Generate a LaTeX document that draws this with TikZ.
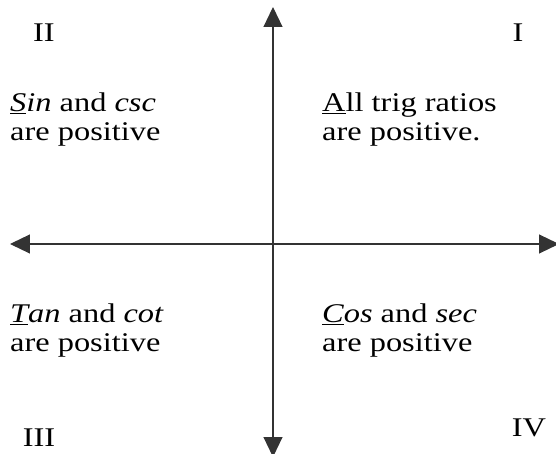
\documentclass[tikz,border=0pt]{standalone}
\usepackage{fontspec}
\setmainfont{Liberation Serif}[FakeStretch=1.2]
\usetikzlibrary{arrows.meta}

\tikzset{
	eixo/.style={line width=1.1pt, black!80, -{Triangle[length=20pt,width=19pt]}},
	rotulo/.style={inner sep=0pt, align=left, anchor=west, font=\fontsize{27}{29}\selectfont},
	numeral/.style={inner sep=0pt, font=\fontsize{27}{29}\selectfont}
}

\begin{document}
\begin{tikzpicture}[x=1pt,y=1pt]
\useasboundingbox (-273,-210) rectangle (283,244);

% Eixos
	\coordinate (O) at (0,0);
	\coordinate (esq) at (-263,0);
	\coordinate (dir) at (286,0);
	\coordinate (cima) at (0,237);
	\coordinate (baixo) at (0,-213);
	\draw[eixo] (O) -- (esq);
	\draw[eixo] (O) -- (dir);
	\draw[eixo] (O) -- (cima);
	\draw[eixo] (O) -- (baixo);

% Quadrantes
	\foreach \nome/\x/\y/\txt in {qi/245/211/I, qii/-229/211/II, qiii/-234/-194/III, qiv/256/-184/IV}
		\node[numeral] (\nome) at (\x,\y) {\txt};

	\node[rotulo] (todas) at (49,124.5) {\underline{A}ll trig ratios\\are positive.};
	\node[rotulo] (seno) at (-263,124.5) {\textit{\underline{S}in} and \textit{csc}\\are positive};
	\node[rotulo] (tang) at (-263,-87) {\textit{\underline{T}an} and \textit{cot}\\are positive};
	\node[rotulo] (cosseno) at (49,-87) {\textit{\underline{C}os} and \textit{sec}\\are positive};
\end{tikzpicture}
\end{document}
